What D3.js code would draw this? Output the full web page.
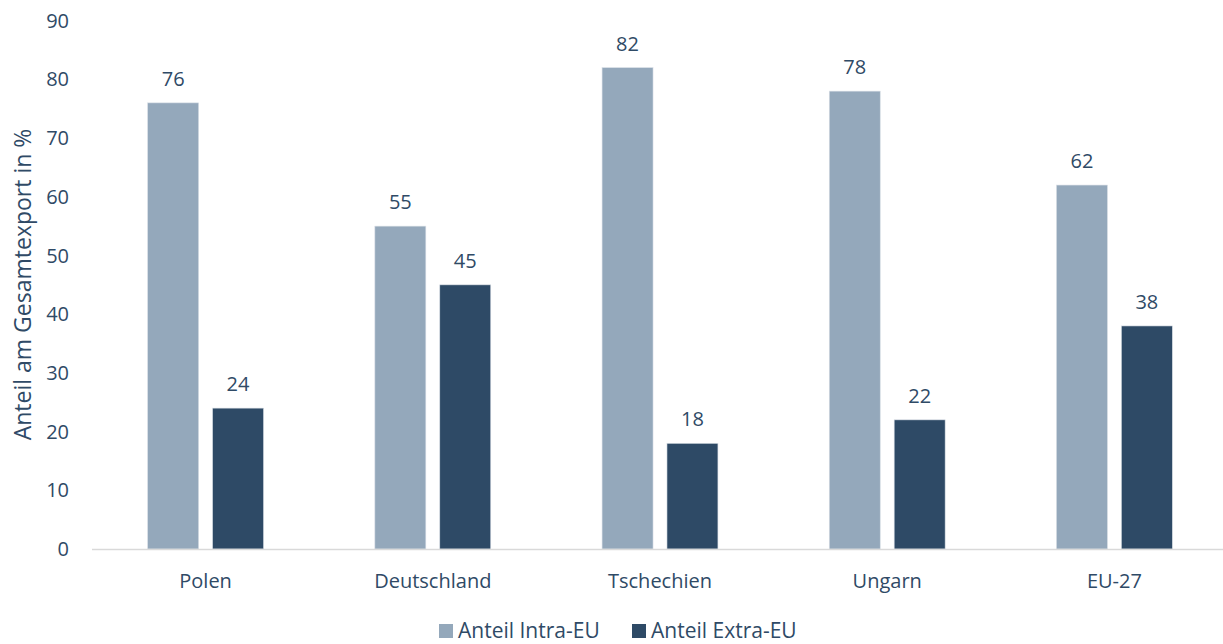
<!DOCTYPE html>
<html>
<head>
<meta charset="utf-8">
<script src="https://cdn.jsdelivr.net/npm/d3@7"></script>
<style>
  body { margin: 0; background: #fff; }
  text { font-family: "Open Sans", sans-serif; fill: #2f4a66; }
</style>
</head>
<body>
<div id="chart"></div>
<script>
  var categories = ["Polen", "Deutschland", "Tschechien", "Ungarn", "EU-27"];
  var seriesNames = ["Anteil Intra-EU", "Anteil Extra-EU"];
  var intraEU = [76, 55, 82, 78, 62];
  var extraEU = [24, 45, 18, 22, 38];
  var yTicks = [0, 10, 20, 30, 40, 50, 60, 70, 80, 90];
  var colors = ["#94a8bb", "#2e4a66"];

  var svgWidth = 1223;
  var svgHeight = 644;

  var svg = d3.select("#chart")
    .append("svg")
    .attr("width", svgWidth)
    .attr("height", svgHeight);

  // scales
  var x0 = d3.scaleBand()
    .domain(categories)
    .range([92, 1228])
    .paddingInner(0.49)
    .paddingOuter(0.245);

  var x1 = d3.scaleBand()
    .domain(seriesNames)
    .range([0, x0.bandwidth()])
    .paddingInner(0.215);

  var y = d3.scaleLinear()
    .domain([0, 90])
    .range([549, 20.7]);

  var data = categories.map(function(c, i) {
    return { cat: c, values: [intraEU[i], extraEU[i]] };
  });

  // y tick labels (no axis line)
  svg.append("g").selectAll("text")
    .data(yTicks)
    .enter()
    .append("text")
    .attr("x", 69)
    .attr("y", d => y(d))
    .attr("dy", "0.35em")
    .attr("text-anchor", "end")
    .style("font-size", "20px")
    .text(d => d);

  // bars
  var groups = svg.append("g").selectAll("g")
    .data(data)
    .enter()
    .append("g")
    .attr("transform", d => `translate(${x0(d.cat)},0)`);

  groups.selectAll("rect")
    .data(d => d.values.map((v, i) => ({ key: seriesNames[i], value: v, i: i })))
    .enter()
    .append("rect")
    .attr("x", d => x1(d.key))
    .attr("y", d => y(d.value))
    .attr("width", x1.bandwidth())
    .attr("height", d => y(0) - y(d.value))
    .attr("fill", d => colors[d.i])
    .attr("stroke", "#d8dee5")
    .attr("stroke-width", 0.6);

  // value labels
  groups.selectAll("text.val")
    .data(d => d.values.map((v, i) => ({ key: seriesNames[i], value: v })))
    .enter()
    .append("text")
    .attr("class", "val")
    .attr("x", d => x1(d.key) + x1.bandwidth() / 2)
    .attr("y", d => y(d.value) - 17)
    .attr("text-anchor", "middle")
    .style("font-size", "20px")
    .text(d => d.value);

  // x axis line
  svg.append("line")
    .attr("x1", 92)
    .attr("x2", 1228)
    .attr("y1", 549.5)
    .attr("y2", 549.5)
    .attr("stroke", "#d9d9d9")
    .attr("stroke-width", 1.5);

  // category labels
  svg.append("g").selectAll("text")
    .data(categories)
    .enter()
    .append("text")
    .attr("x", d => x0(d) + x0.bandwidth() / 2)
    .attr("y", 588)
    .attr("text-anchor", "middle")
    .style("font-size", "20px")
    .text(d => d);

  // y axis title
  svg.append("text")
    .attr("transform", "rotate(-90)")
    .attr("x", -284.5)
    .attr("y", 31)
    .attr("text-anchor", "middle")
    .style("font-size", "23px")
    .text("Anteil am Gesamtexport in %");

  // legend (nudged up a little so the text stays inside the frame)
  var legendX = [439, 632];
  var legend = svg.append("g").selectAll("g")
    .data(seriesNames)
    .enter()
    .append("g")
    .attr("transform", (d, i) => `translate(${legendX[i]},624)`);

  legend.append("rect")
    .attr("width", 14)
    .attr("height", 14)
    .attr("fill", (d, i) => colors[i]);

  legend.append("text")
    .attr("x", 19)
    .attr("y", 14)
    .style("font-size", "21px")
    .text(d => d);
</script>
</body>
</html>
